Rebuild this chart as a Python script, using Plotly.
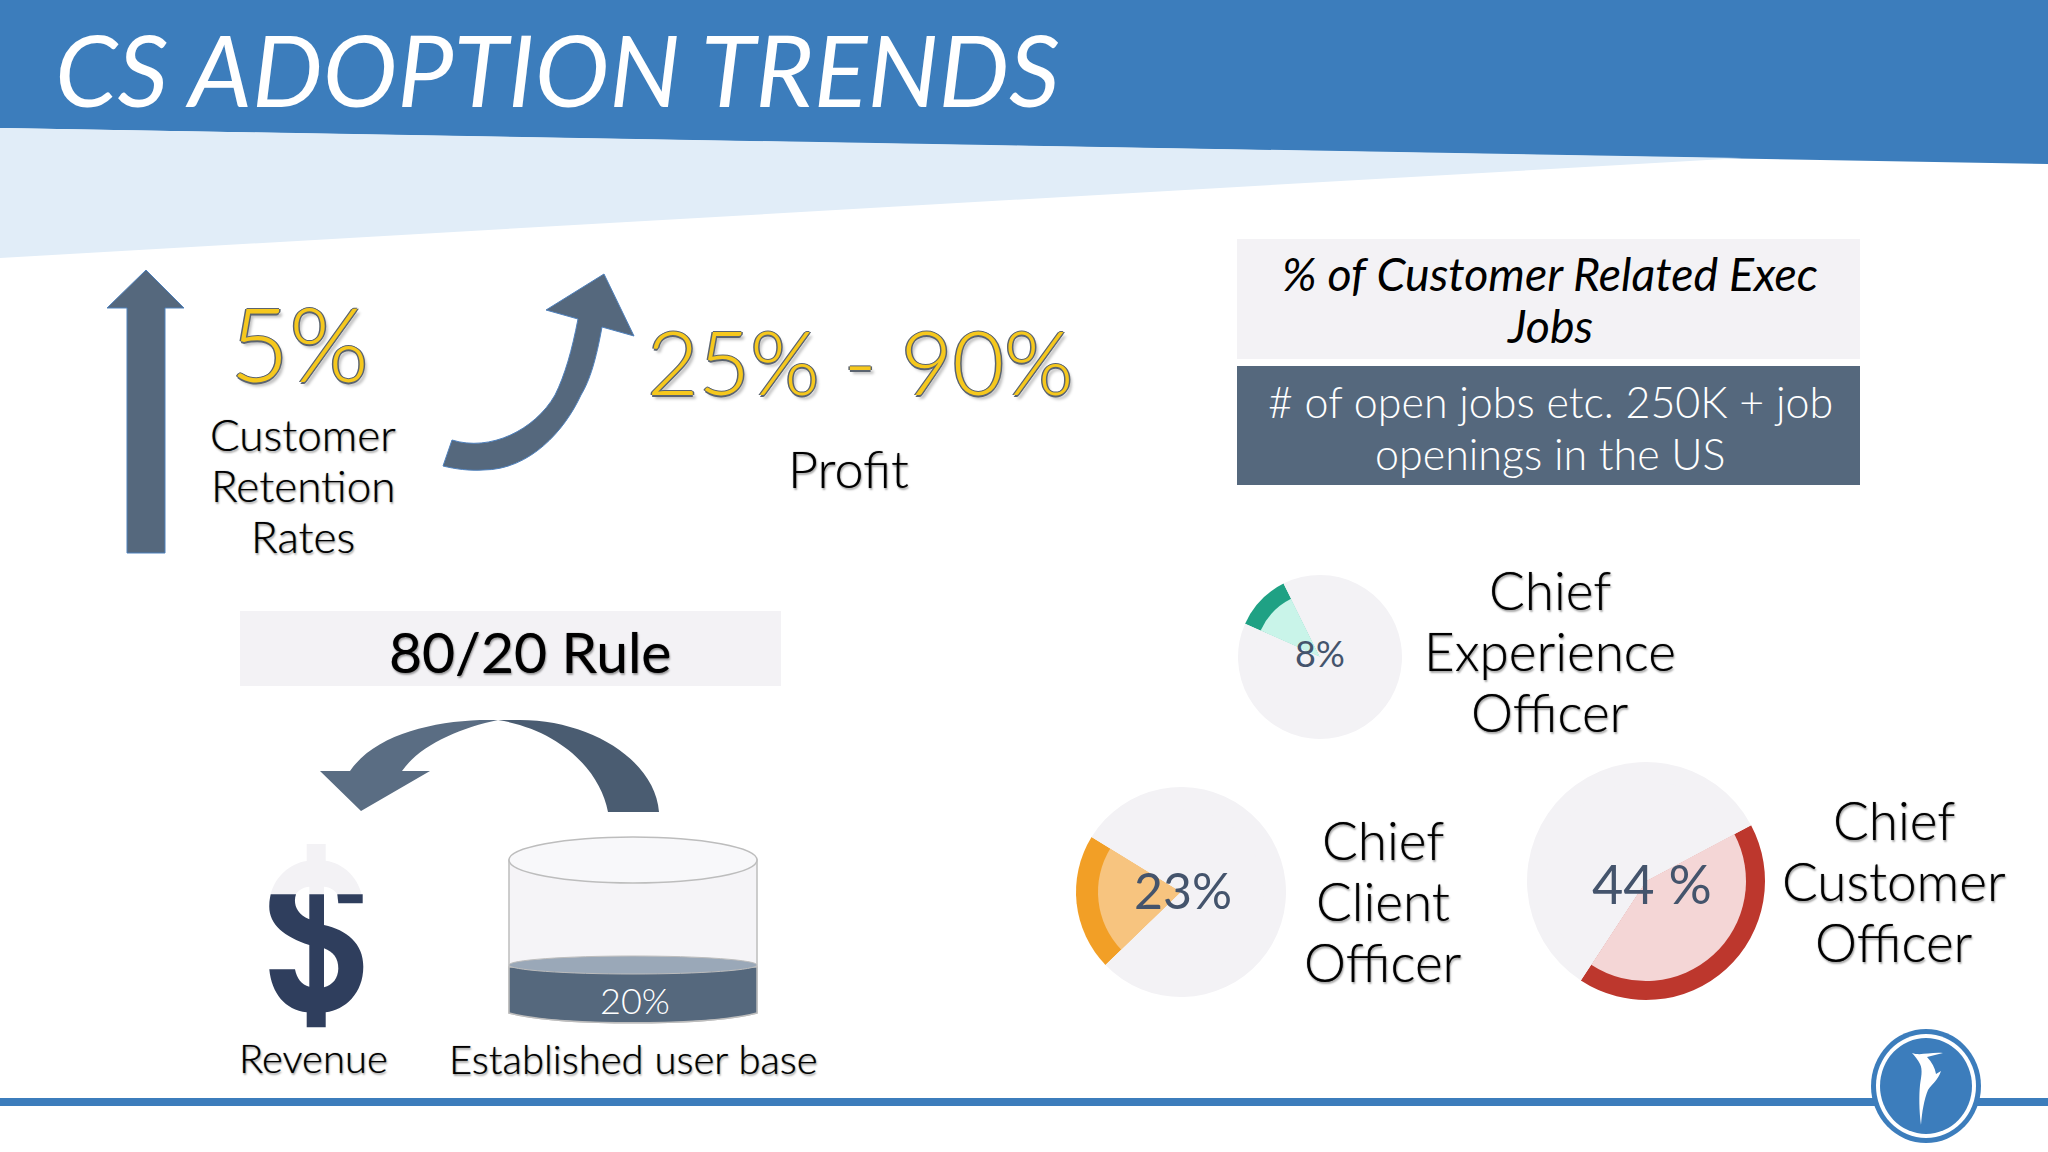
import re
import plotly.graph_objects as go

# values
exec_labels = ["8%", "23%", "44 %"]
exec_roles = ["Chief<br>Experience<br>Officer", "Chief<br>Client<br>Officer", "Chief<br>Customer<br>Officer"]
# the wedges on the slide are not quite the size their labels say, so these are measured
wedge_pct = [11, 21, 42]
wedge_start = [-66, -134, 62]

# per pie layout
pie_cx = [1320, 1181, 1646]
pie_cy = [657, 892, 881]
pie_r = [82, 105, 119]
pie_inner = [65, 83, 100]
ring_col = ["#1fa184", "#f29f26", "#bd372d"]
fill_col = ["#c9f4e9", "#f7c47f", "#f4d6d6"]

W, H = 2048, 1152
BLUE = "#3c7dbc"
PALE = "#f3f2f5"
SLATE = "#55687d"
NAVY = "#2f3e5d"
FONT = "Lato"
SOFT = "0 0 1px rgba(0,0,0,0.6), 1px 2px 2px rgba(0,0,0,0.35)"

fig = go.Figure()
fig.add_trace(go.Scatter(x=[], y=[], showlegend=False))


def add_pie(cx, cy, r, pct, start, col):
    fig.add_trace(go.Pie(
        values=[pct, 100 - pct],
        sort=False,
        direction="clockwise",
        rotation=start,
        textinfo="none",
        hoverinfo="skip",
        showlegend=False,
        marker=dict(colors=[col, PALE], line=dict(width=0)),
        domain=dict(x=[(cx - r) / W, (cx + r) / W], y=[1 - (cy + r) / H, 1 - (cy - r) / H]),
    ))


for i in range(3):
    add_pie(pie_cx[i], pie_cy[i], pie_r[i], wedge_pct[i], wedge_start[i], ring_col[i])
    add_pie(pie_cx[i], pie_cy[i], pie_inner[i], wedge_pct[i], wedge_start[i], fill_col[i])

shapes = []


def poly(path, fill, line=None, width=0, layer="above"):
    shapes.append(dict(type="path", path=path, fillcolor=fill, layer=layer,
                       line=dict(color=line or fill, width=width), xref="x", yref="y"))


def box(x0, y0, x1, y1, fill):
    shapes.append(dict(type="rect", x0=x0, y0=y0, x1=x1, y1=y1, fillcolor=fill,
                       line=dict(width=0), xref="x", yref="y", layer="above"))


def oval(cx, cy, rx, ry, fill, line=None, width=0):
    shapes.append(dict(type="circle", x0=cx - rx, y0=cy - ry, x1=cx + rx, y1=cy + ry, fillcolor=fill,
                       line=dict(color=line or fill, width=width), xref="x", yref="y", layer="above"))


def dollar(path):
    # glyph drawn at 3x in its own box, move it onto the slide
    nums = iter(re.findall(r"[A-Z]|[\d.]+", path))
    out = []
    for tok in nums:
        if tok.isalpha():
            out.append(tok)
        else:
            out.append(f"{250 + float(tok) / 3:.1f},{830 + float(next(nums)) / 3:.1f}")
    return " ".join(out)


# header
poly("M0,0 L2048,0 L2048,164 L0,128 Z", BLUE)
poly("M0,128 L1742,158 L0,258 Z", "#e1edf8")

# bottom rule and logo
box(0, 1098, 2048, 1106, BLUE)
oval(1926, 1086, 55, 57, BLUE)
oval(1926, 1086, 50, 52, "white")
oval(1926, 1086, 46, 48, BLUE)
poly("M1912,1053 C1920,1056 1930,1052 1943,1053 L1927,1057 C1932,1062 1935,1068 1936,1074 L1941,1071 "
     "C1938,1080 1932,1084 1928,1090 C1924,1100 1922,1112 1921,1125 C1919,1110 1919,1095 1920,1085 "
     "C1921,1078 1923,1070 1920,1064 C1918,1060 1915,1056 1912,1053 Z", "white")

# straight arrow
poly("M146,270 L184,308 L165,308 L165,553 L127,553 L127,308 L107,308 Z", SLATE, "#4f81bd", 1)

# curved arrow up to profit
poly("M443,466 L452,440 C490,452 535,430 555,395 C565,375 572,350 578,319 L546,310 L604,274 L634,336 L602,327 "
     "C596,360 590,380 581,395 C565,430 530,470 483,470 C470,471 455,469 443,466 Z", SLATE, "#4f81bd", 1)

# 80/20 block, arrow is a little lighter on the head side
box(240, 611, 781, 686, PALE)
poly("M659,812 C655,760 590,720 520,720 L498,720 C560,730 600,770 608,812 Z", "#4a5c71")
poly("M520,720 L480,720 C430,722 375,735 350,771 L320,771 L361,811 L430,771 L402,771 "
     "C420,745 460,728 498,720 Z", "#5a6d83")

# dollar sign
poly(dollar("M62 193 C75 140 120 100 170 93 L170 42 L227 42 L227 92 C280 100 322 140 335 193 L262 193 "
            "C255 180 240 172 222 170 L222 193 L178 193 L178 170 C160 172 145 180 138 193 Z"), PALE)
poly(dollar("M62 193 L138 193 C130 215 135 250 178 268 L178 193 L222 193 L222 285 C290 300 340 340 340 410 "
            "C340 490 285 540 227 547 L227 592 L170 592 L170 547 C105 540 65 490 58 418 L135 418 "
            "C140 445 155 465 178 470 L178 345 C100 320 55 280 58 225 C58 213 60 203 62 193 Z"), NAVY)
poly(dollar("M222 355 C250 365 265 385 265 415 C265 445 248 465 222 472 Z"), "white")
poly(dollar("M262 193 L338 193 L338 220 L265 220 Z"), NAVY)

# cylinder
poly("M509,860 L509,1013 C560,1026 706,1026 757,1013 L757,860 Z", "#f5f4f7", "#bdbdbd", 1.5)
poly("M509,967 L509,1013 C560,1026 706,1026 757,1013 L757,967 Z", SLATE, "#bdbdbd", 1.5)
oval(633, 965, 124, 9, "#9aa8b8", "#bdbdbd", 1)
oval(633, 860, 124, 23, "#f8f8fa", "#bdbdbd", 1.5)

# job boxes
box(1237, 239, 1860, 359, PALE)
box(1237, 366, 1860, 485, SLATE)

notes = []


def note(x, y, text, size, color="black", italic=False, weight=400, shadow=None, pitch=None):
    # one annotation per line, the slide's line pitch is tighter than plotly's <br>
    lines = text.split("<br>")
    for n, line in enumerate(lines):
        notes.append(dict(x=x, y=y + (n - (len(lines) - 1) / 2) * (pitch or 0), xref="x", yref="y",
                          text=line, showarrow=False, xanchor="center", yanchor="middle", align="center",
                          font=dict(family=FONT, size=size, color=color, weight=weight,
                                    style="italic" if italic else "normal", shadow=shadow or "none")))


note(557, 68, "CS ADOPTION TRENDS", 100, "white", italic=True, weight=400)

OUTLINE = ("1.5px 0 #5b6470, -1.5px 0 #5b6470, 0 1.5px #5b6470, 0 -1.5px #5b6470, "
           "3px 4px 3px rgba(0,0,0,0.25)")
note(299, 342, "5%", 102, "#f6c81d", weight=300, shadow=OUTLINE)
note(860, 360, "25% - 90%", 89, "#f6c81d", weight=300, shadow=OUTLINE)
note(303, 485, "Customer<br>Retention<br>Rates", 44, weight=300, shadow=SOFT, pitch=51)
note(848, 468, "Profit", 52, weight=300, shadow=SOFT)

note(530, 651, "80/20 Rule", 57, shadow=SOFT)
note(313, 1058, "Revenue", 40, weight=300, shadow=SOFT)
note(633, 1059, "Established user base", 40, weight=300, shadow=SOFT)
note(635, 1000, "20%", 36, "white", weight=300)

note(1550, 299, "% of Customer Related Exec<br>Jobs", 46.5, italic=True, pitch=52)
note(1550, 427, "# of open jobs etc. 250K + job<br>openings in the US", 43, "white", weight=300, pitch=52)

role_x = [1550, 1383, 1894]
role_y = [650, 900, 880]
label_x = [1320, 1183, 1652]
label_y = [653, 890, 883]
label_size = [36, 50, 54]
for i in range(3):
    note(role_x[i], role_y[i], exec_roles[i], 53, weight=300, shadow=SOFT, pitch=61)
    note(label_x[i], label_y[i], exec_labels[i], label_size[i], "#44546c")

fig.update_layout(
    width=W,
    height=H,
    margin=dict(l=0, r=0, t=0, b=0),
    paper_bgcolor="white",
    plot_bgcolor="white",
    xaxis=dict(range=[0, W], visible=False, fixedrange=True),
    yaxis=dict(range=[H, 0], visible=False, fixedrange=True),
    shapes=shapes,
    annotations=notes,
)

fig.write_html("out.html", config=dict(displayModeBar=False), post_script="document.body.style.margin='0';")
